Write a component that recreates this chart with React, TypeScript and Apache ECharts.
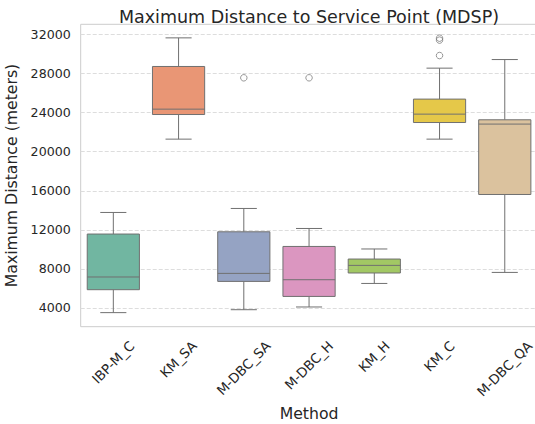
import { useEffect, useRef } from 'react';
import * as echarts from 'echarts';

const methods = ['IBP-M_C', 'KM_SA', 'M-DBC_SA', 'M-DBC_H', 'KM_H', 'KM_C', 'M-DBC_QA'];
const whiskerLow = [3520, 21290, 3820, 4100, 6510, 21290, 7640];
const q1 = [5870, 23810, 6720, 5180, 7580, 22990, 15620];
const median = [7170, 24360, 7540, 6890, 8360, 23850, 22830];
const q3 = [11570, 28730, 11800, 10300, 9010, 25390, 23270];
const whiskerHigh = [13780, 31660, 14190, 12140, 10040, 28560, 29440];
const outlierMethods = ['M-DBC_SA', 'M-DBC_H', 'KM_C', 'KM_C', 'KM_C'];
const outlierValues = [27570, 27570, 31630, 31430, 29850];
const yTicks = [4000, 8000, 12000, 16000, 20000, 24000, 28000, 32000];
const palette = ['#71b6a1', '#e99675', '#95a3c3', '#db96c0', '#a2c864', '#e5c849', '#dbc29e'];

const FONT = 'DejaVu Sans';
const TXT = '#262626';
const LINE = '#707070';
const XFS = 13.4;

export default function App() {
  const ref = useRef<HTMLDivElement>(null);
  useEffect(() => {
    document.body.style.margin = '0';
    const chart = echarts.init(ref.current!, undefined, { renderer: 'svg' });
    const ctx = document.createElement('canvas').getContext('2d')!;
    ctx.font = `${XFS}px "${FONT}"`;
    const rich: Record<string, any> = {};
    methods.forEach((m, i) => {
      const L = ctx.measureText(m).width;
      rich['l' + i] = {
        fontFamily: FONT,
        fontSize: XFS,
        color: TXT,
        padding: [L * 0.5, L * 0.5, 0, 0],
      };
    });
    const boxData = methods.map((m, i) => [i, whiskerLow[i], q1[i], median[i], q3[i], whiskerHigh[i]]);
    const outData = outlierMethods.map((m, i) => [methods.indexOf(m), outlierValues[i]]);

    chart.setOption({
      animation: false,
      backgroundColor: '#ffffff',
      title: {
        text: 'Maximum Distance to Service Point (MDSP)',
        left: 304,
        textAlign: 'center',
        top: 3,
        textStyle: { fontFamily: FONT, fontSize: 17.5, fontWeight: 'normal', color: TXT },
      },
      grid: {
        left: 80.7,
        right: -2.4,
        top: 24.3,
        bottom: 97.3,
        outerBoundsMode: 'none',
        containLabel: false,
        show: true,
        borderColor: '#cccccc',
        borderWidth: 1,
        backgroundColor: 'transparent',
      },
      xAxis: {
        type: 'category',
        data: methods,
        boundaryGap: true,
        axisLine: { show: false },
        axisTick: { show: false },
        splitLine: { show: false },
        name: 'Method',
        nameLocation: 'middle',
        nameGap: 77,
        nameTextStyle: { fontFamily: FONT, fontSize: 15.7, color: TXT },
        axisLabel: {
          interval: 0,
          rotate: 45,
          align: 'center',
          verticalAlign: 'middle',
          margin: 17,
          hideOverlap: false,
          fontFamily: FONT,
          fontSize: XFS,
          color: TXT,
          formatter: (v: string) => `{l${methods.indexOf(v)}|${v}}`,
          rich,
        },
      },
      yAxis: {
        type: 'value',
        min: 2080,
        max: 33050,
        axisLine: { show: false },
        axisTick: { show: false, customValues: yTicks },
        axisLabel: {
          customValues: yTicks,
          margin: 10,
          fontFamily: FONT,
          fontSize: 12.6,
          color: TXT,
          formatter: (v: number) => String(v),
        },
        splitLine: { show: true, lineStyle: { color: '#dddddd', type: [4, 2], width: 1 } },
        name: 'Maximum Distance (meters)',
        nameLocation: 'middle',
        nameGap: 53,
        nameTextStyle: { fontFamily: FONT, fontSize: 15.7, color: TXT },
      },
      series: [
        {
          type: 'custom',
          data: boxData,
          encode: { x: 0, y: [1, 2, 3, 4, 5] },
          renderItem: (params: any, api: any) => {
            const i = api.value(0);
            const pLo = api.coord([i, api.value(1)]);
            const pQ1 = api.coord([i, api.value(2)]);
            const pMed = api.coord([i, api.value(3)]);
            const pQ3 = api.coord([i, api.value(4)]);
            const pHi = api.coord([i, api.value(5)]);
            const bw = api.size([1, 0])[0] * 0.8;
            const cx = pLo[0];
            const ls = { stroke: LINE, lineWidth: 1, fill: 'none' };
            return {
              type: 'group',
              children: [
                { type: 'line', shape: { x1: cx, y1: pHi[1], x2: cx, y2: pQ3[1] }, style: ls },
                { type: 'line', shape: { x1: cx, y1: pQ1[1], x2: cx, y2: pLo[1] }, style: ls },
                { type: 'line', shape: { x1: cx - bw / 4, y1: pHi[1], x2: cx + bw / 4, y2: pHi[1] }, style: ls },
                { type: 'line', shape: { x1: cx - bw / 4, y1: pLo[1], x2: cx + bw / 4, y2: pLo[1] }, style: ls },
                {
                  type: 'rect',
                  shape: { x: cx - bw / 2, y: pQ3[1], width: bw, height: pQ1[1] - pQ3[1] },
                  style: { fill: palette[params.dataIndex], stroke: LINE, lineWidth: 1 },
                },
                { type: 'line', shape: { x1: cx - bw / 2, y1: pMed[1], x2: cx + bw / 2, y2: pMed[1] }, style: ls },
              ],
            };
          },
        },
        {
          type: 'scatter',
          data: outData,
          symbol: 'circle',
          symbolSize: 6.5,
          itemStyle: { color: 'rgba(0,0,0,0)', borderColor: LINE, borderWidth: 0.9 },
        },
      ],
    });
    return () => chart.dispose();
  }, []);
  return <div ref={ref} style={{ width: 535, height: 424 }} />;
}
